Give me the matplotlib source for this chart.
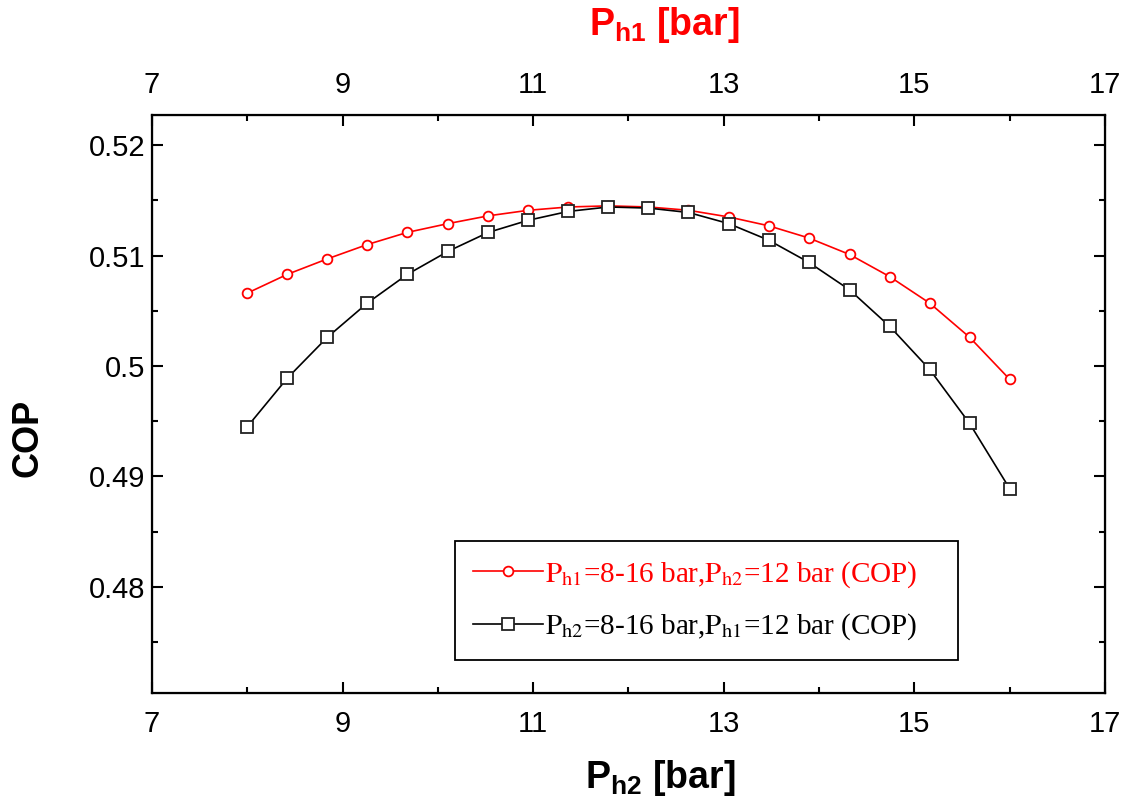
import numpy as np
import matplotlib
matplotlib.use('Agg')
import matplotlib.pyplot as plt
from matplotlib.ticker import FixedLocator, MultipleLocator, FuncFormatter
from matplotlib.font_manager import FontProperties

plt.rcParams['font.family'] = ['Liberation Sans', 'DejaVu Sans']
plt.rcParams['mathtext.fontset'] = 'custom'
plt.rcParams['mathtext.rm'] = 'Liberation Sans'
plt.rcParams['mathtext.bf'] = 'Liberation Sans:bold'

# pressure steps (bar), 20 points from 8 to 16
p_bar = [8.00, 8.42, 8.84, 9.26, 9.68, 10.11, 10.53, 10.95, 11.37, 11.79,
         12.21, 12.63, 13.05, 13.47, 13.89, 14.32, 14.74, 15.16, 15.58, 16.00]

# COP with Ph1 varied (Ph2 = 12 bar)
cop_ph1 = [0.5066, 0.5083, 0.5097, 0.5110, 0.5121, 0.5129, 0.5136, 0.5141, 0.5144, 0.5145,
           0.5144, 0.5141, 0.5135, 0.5127, 0.5116, 0.5101, 0.5081, 0.5057, 0.5026, 0.4988]

# COP with Ph2 varied (Ph1 = 12 bar)
cop_ph2 = [0.4945, 0.4989, 0.5026, 0.5057, 0.5083, 0.5104, 0.5121, 0.5132, 0.5140, 0.5144,
           0.5143, 0.5139, 0.5129, 0.5114, 0.5094, 0.5069, 0.5036, 0.4997, 0.4948, 0.4889]

x_major = [7, 9, 11, 13, 15, 17]
x_minor = [8, 10, 12, 14, 16]

lbl_ph1 = r'$\mathrm{P_{h1}}$=8-16 bar,$\mathrm{P_{h2}}$=12 bar (COP)'
lbl_ph2 = r'$\mathrm{P_{h2}}$=8-16 bar,$\mathrm{P_{h1}}$=12 bar (COP)'

fig = plt.figure(figsize=(11.29, 7.99), dpi=100)
ax = fig.add_axes([0.1346, 0.1327, 0.8441, 0.7230])

ax.plot(p_bar, cop_ph1, color='#ff0000', lw=1.2, marker='o', ms=7,
        mfc='white', mec='#ff0000', mew=1.3, label=lbl_ph1)
ax.plot(p_bar, cop_ph2, color='black', lw=1.2, marker='s', ms=9,
        mfc='white', mec='#222222', mew=1.3, label=lbl_ph2)

ax.set_xlim(7, 17)
ax.set_ylim(0.4704, 0.5227)
ax.xaxis.set_major_locator(FixedLocator(x_major))
ax.xaxis.set_minor_locator(FixedLocator(x_minor))
ax.yaxis.set_major_locator(MultipleLocator(0.01))
ax.yaxis.set_minor_locator(MultipleLocator(0.005))
ax.yaxis.set_major_formatter(FuncFormatter(lambda v, p: '%g' % round(v, 3)))

ax.tick_params(which='both', direction='in', width=1.5, labelsize=21,
               right=True, top=False)
ax.tick_params(axis='x', which='both', pad=12)
ax.tick_params(axis='y', which='both', pad=5)
ax.tick_params(which='major', length=8)
ax.tick_params(which='minor', length=4.5)
for s in ax.spines.values():
    s.set_linewidth(1.6)

# top axis shares the same pressure scale
top = ax.twiny()
top.set_xlim(ax.get_xlim())
top.xaxis.set_major_locator(FixedLocator(x_major))
top.xaxis.set_minor_locator(FixedLocator(x_minor))
top.tick_params(which='both', direction='in', width=1.5, labelsize=21, pad=12)
top.tick_params(which='major', length=8)
top.tick_params(which='minor', length=4.5)

ax.set_xlabel(r'$\mathbf{P_{h2}}$ [bar]', fontsize=27, fontweight='bold', va='center')
ax.xaxis.set_label_coords(0.533, -0.147)
top.set_xlabel(r'$\mathbf{P_{h1}}$ [bar]', fontsize=27, fontweight='bold',
               color='#ff0000', va='center')
top.xaxis.set_label_coords(0.538, 1.156)
ax.set_ylabel('COP', fontsize=26, fontweight='bold', va='center')
ax.yaxis.set_label_coords(-0.130, 0.441)

leg_font = FontProperties(family='Liberation Serif', size=21, math_fontfamily='stix')
leg = ax.legend(loc='center', bbox_to_anchor=(0.318, 0.059, 0.528, 0.202), mode='expand',
                prop=leg_font, labelcolor='linecolor', frameon=True, fancybox=False,
                handlelength=2.4, handletextpad=0.1, labelspacing=0.75, borderpad=0.6,
                borderaxespad=0)
leg.get_frame().set_edgecolor('black')
leg.get_frame().set_linewidth(1.3)
leg.get_frame().set_alpha(1)

fig.savefig('out.png', dpi=100)
